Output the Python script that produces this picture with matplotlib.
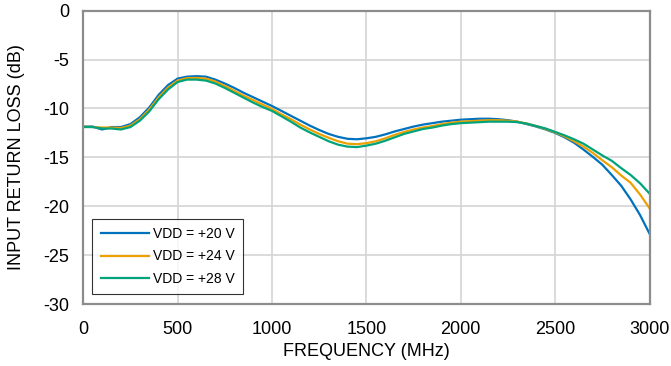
import numpy as np
import matplotlib
matplotlib.use("Agg")
import matplotlib.pyplot as plt

plt.rcParams["font.family"] = ["Liberation Sans", "DejaVu Sans"]
plt.rcParams["axes.unicode_minus"] = False

# frequency grid (MHz)
freq = np.arange(0, 3001, 50)

# input return loss (dB)
vdd20 = [-11.85, -11.85, -12.15, -11.9, -11.9, -11.6, -10.9, -9.9, -8.6, -7.6,
         -6.95, -6.75, -6.7, -6.75, -7.05, -7.45, -7.9, -8.4, -8.85, -9.3,
         -9.75, -10.25, -10.75, -11.25, -11.75, -12.2, -12.6, -12.9, -13.1, -13.15,
         -13.05, -12.9, -12.65, -12.35, -12.1, -11.85, -11.65, -11.5, -11.35, -11.25,
         -11.15, -11.1, -11.05, -11.05, -11.1, -11.2, -11.35, -11.6, -11.85, -12.15,
         -12.5, -12.95, -13.5, -14.2, -14.95, -15.75, -16.8, -17.9, -19.3, -20.9,
         -22.8]
vdd24 = [-11.85, -11.9, -11.95, -11.95, -12.0, -11.75, -11.1, -10.1, -8.85, -7.85,
         -7.15, -6.9, -6.88, -6.95, -7.25, -7.7, -8.2, -8.7, -9.15, -9.6,
         -10.05, -10.6, -11.1, -11.65, -12.15, -12.6, -13.0, -13.35, -13.6, -13.65,
         -13.55, -13.35, -13.05, -12.7, -12.4, -12.15, -11.95, -11.8, -11.6, -11.45,
         -11.35, -11.3, -11.25, -11.2, -11.2, -11.25, -11.35, -11.55, -11.8, -12.1,
         -12.45, -12.85, -13.35, -13.9, -14.55, -15.3, -16.0, -16.85, -17.6, -18.8,
         -20.2]
vdd28 = [-11.9, -11.9, -12.05, -12.05, -12.15, -11.9, -11.25, -10.3, -9.05, -8.05,
         -7.3, -7.05, -7.05, -7.15, -7.45, -7.9, -8.4, -8.9, -9.4, -9.85,
         -10.25, -10.8, -11.35, -11.95, -12.45, -12.9, -13.35, -13.7, -13.9, -13.95,
         -13.8, -13.6, -13.3, -12.95, -12.6, -12.35, -12.1, -11.95, -11.75, -11.6,
         -11.5, -11.45, -11.4, -11.35, -11.35, -11.35, -11.4, -11.55, -11.8, -12.05,
         -12.4, -12.75, -13.15, -13.6, -14.2, -14.8, -15.35, -16.1, -16.8, -17.65,
         -18.7]

labels = ["VDD = +20 V", "VDD = +24 V", "VDD = +28 V"]
colors = ["#0072BD", "#EDA100", "#00A37A"]

fig = plt.figure(figsize=(6.71, 3.66), dpi=100)
ax = fig.add_axes([0.124, 0.169, 0.844, 0.802])

for y, lab, c in zip([vdd20, vdd24, vdd28], labels, colors):
    ax.plot(freq, y, color=c, lw=1.6, label=lab)

ax.set_xlim(0, 3000)
ax.set_ylim(-30, 0)
ax.set_xticks(np.arange(0, 3001, 500))
ax.set_yticks(np.arange(-30, 1, 5))
ax.grid(True, color="#D4D4D4", lw=1.2)
ax.set_axisbelow(True)
ax.tick_params(axis="x", length=0, labelsize=13, pad=12)
ax.tick_params(axis="y", length=0, labelsize=13, pad=10)
for s in ax.spines.values():
    s.set_color("#8C8C8C")
    s.set_linewidth(1.6)

ax.set_xlabel("FREQUENCY (MHz)", fontsize=13, labelpad=4)
ax.set_ylabel("INPUT RETURN LOSS (dB)", fontsize=13, labelpad=13)

leg = ax.legend(loc="lower left", bbox_to_anchor=(0.016, 0.034), fontsize=10,
                handlelength=3.45, handletextpad=0.3, frameon=True, fancybox=False,
                borderpad=0.6, labelspacing=0.6, borderaxespad=0)
leg.get_frame().set_edgecolor("black")
leg.get_frame().set_linewidth(0.8)

fig.savefig("out.png", dpi=100)
